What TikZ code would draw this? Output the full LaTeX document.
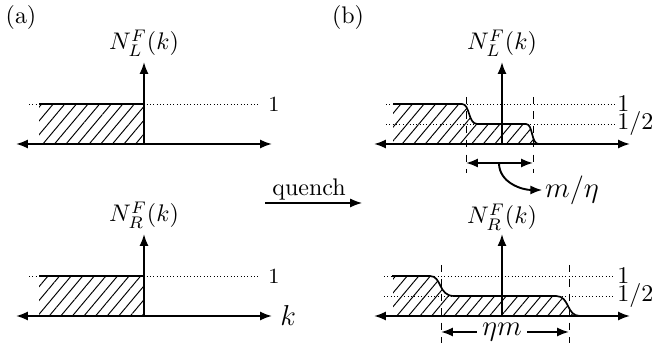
\documentclass[tikz,border=0pt]{standalone}
\usetikzlibrary{arrows.meta,patterns.meta}
\begin{document}
\begin{tikzpicture}[scale=0.586, >={Latex[length=5pt,width=3.8pt]},
  axis/.style={<->, thick},
  level/.style={densely dotted, line width=0.4pt},
  cut/.style={dashed, line width=0.4pt},
  hatch/.style={pattern={Lines[angle=50,distance=3.7pt,line width=0.4pt]}},
  occ/.style={line width=0.7pt}]
  \useasboundingbox (0,0) rectangle (16.35,8.675);
  \node (lbla) at (0.525,8.225) {(a)};
  \node (lblb) at (8.7,8.225) {(b)};
  % (a): sharp Fermi edge at k=0
  \foreach \y/\s in {5.075/L, 0.775/R} {
    \begin{scope}[shift={(3.6,\y)}]
      \fill[hatch] (-2.625,0) rectangle (0,1);
      \draw[level] (-2.875,1) -- (2.875,1);
      \draw[occ] (-2.625,1) -- (0,1);
      \coordinate (a\s o) at (0,0);
      \coordinate (a\s l) at (-3.2,0);
      \coordinate (a\s r) at (3.2,0);
      \coordinate (a\s t) at (0,2.05);
      \draw[axis] (a\s l) -- (a\s r);
      \draw[thick,->] (a\s o) -- (a\s t);
      \node[inner sep=1pt] (na\s) at (0,2.52) {$N_{\s}^{F}(k)$};
      \node[font=\small, anchor=west] (onea\s) at (2.9,1) {1};
    \end{scope}
  }
  \node[font=\large, anchor=west] (k) at (aRr) {$k$};
  % quench
  \coordinate (qs) at (6.625,3.6);
  \coordinate (qe) at (9.05,3.6);
  \draw[->, line width=0.5pt] (qs) -- (qe);
  \node (qn) at (7.725,3.925) {quench};
  % (b) top: left movers
  \begin{scope}[shift={(12.55,5.075)}]
    \fill[hatch] (-2.725,0) -- (-2.725,1) -- (-1.0,1) .. controls (-0.8,1) and (-0.85,0.5) .. (-0.62,0.5)
      -- (0.6,0.5) .. controls (0.78,0.5) and (0.72,0) .. (0.92,0) -- cycle;
    \draw[level] (-2.9,1) -- (2.85,1);
    \draw[level] (-2.9,0.5) -- (2.85,0.5);
    \draw[occ] (-2.725,1) -- (-1.0,1) .. controls (-0.8,1) and (-0.85,0.5) .. (-0.62,0.5)
      -- (0.6,0.5) .. controls (0.78,0.5) and (0.72,0) .. (0.92,0);
    \coordinate (bLo) at (0,0);
    \coordinate (bLl) at (-3.2,0);
    \coordinate (bLr) at (3.2,0);
    \coordinate (bLt) at (0,2.05);
    \draw[axis] (bLl) -- (bLr);
    \draw[thick,->] (bLo) -- (bLt);
    \node[inner sep=1pt] (nbL) at (0,2.52) {$N_{L}^{F}(k)$};
    \node[anchor=west] (onebL) at (2.675,1) {1};
    \node[anchor=west] (halfbL) at (2.675,0.5) {$1/2$};
    \draw[cut] (-0.9,1.175) -- (-0.9,-0.725);
    \draw[cut] (0.775,1.175) -- (0.775,-0.725);
    \coordinate (wl) at (-0.9,-0.475);
    \coordinate (wr) at (0.775,-0.475);
    \coordinate (wm) at (-0.075,-0.475);
    \draw[<->, thick] (wl) -- (wr);
    \node[font=\large, inner sep=1pt] (meta) at (1.75,-1.15) {$m/\eta$};
    \draw[->, thick] (wm) to[out=-90, in=180] (meta.west);
  \end{scope}
  % (b) bottom: right movers
  \begin{scope}[shift={(12.55,0.775)}]
    \fill[hatch] (-2.725,0) -- (-2.725,1) -- (-1.8,1) .. controls (-1.5,1) and (-1.6,0.5) .. (-1.2,0.5)
      -- (1.35,0.5) .. controls (1.7,0.5) and (1.6,0) .. (1.95,0) -- cycle;
    \draw[level] (-2.95,1) -- (2.8,1);
    \draw[level] (-2.95,0.5) -- (2.8,0.5);
    \draw[occ] (-2.75,1) -- (-1.8,1) .. controls (-1.5,1) and (-1.6,0.5) .. (-1.2,0.5)
      -- (1.35,0.5) .. controls (1.7,0.5) and (1.6,0) .. (1.95,0);
    \coordinate (bRo) at (0,0);
    \coordinate (bRl) at (-3.2,0);
    \coordinate (bRr) at (3.2,0);
    \coordinate (bRt) at (0,2.05);
    \draw[axis] (bRl) -- (bRr);
    \draw[thick,->] (bRo) -- (bRt);
    \node[inner sep=1pt] (nbR) at (0,2.47) {$N_{R}^{F}(k)$};
    \node[anchor=west] (onebR) at (2.675,1) {1};
    \node[anchor=west] (halfbR) at (2.675,0.5) {$1/2$};
    \draw[cut] (-1.525,1.275) -- (-1.525,-0.675);
    \draw[cut] (1.675,1.275) -- (1.675,-0.675);
    \coordinate (vl) at (-1.525,-0.4);
    \coordinate (vr) at (1.675,-0.4);
    \node[font=\large, inner sep=2pt] (etam) at (0,-0.4) {$\eta m$};
    \draw[->, thick] (etam) -- (vl);
    \draw[->, thick] (etam) -- (vr);
  \end{scope}
\end{tikzpicture}
\end{document}
